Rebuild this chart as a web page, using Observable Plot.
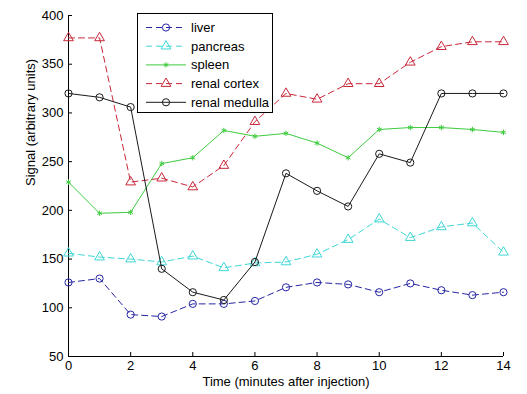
<!DOCTYPE html>
<html><head><meta charset="utf-8">
<script src="https://cdn.jsdelivr.net/npm/d3@7"></script>
<script src="https://cdn.jsdelivr.net/npm/@observablehq/plot@0.6"></script>
<style>
html,body{margin:0;padding:0;background:#fff;}
#wrap{position:relative;width:527px;height:394px;font-family:"Liberation Sans",Arial,sans-serif;}
#legend{position:absolute;left:137px;top:13px;width:136px;height:100px;border:1px solid #000;background:#fff;box-sizing:border-box;}
#legend svg{position:absolute;left:0;top:0;}
</style>
</head><body>
<div id="wrap"><div id="legend"></div></div>
<script>
const times = [0,1,2,3,4,5,6,7,8,9,10,11,12,13,14];
const seriesNames = ["liver","pancreas","spleen","renal cortex","renal medulla"];
const liver = [126,130,93,91,104,104,107,121,126,124,116,125,118,113,116];
const pancreas = [156,152,150,147,153,141,146,147,155,170,191,172,183,187,157];
const spleen = [229,197,198,248,254,282,276,279,269,254,283,285,285,283,280];
const renalCortex = [377,377,229,233,224,246,291,320,314,330,330,352,368,373,373];
const renalMedulla = [320,316,306,140,116,108,147,238,220,204,258,249,320,320,320];
const yTicks = [50,100,150,200,250,300,350,400];
const xTicks = [0,2,4,6,8,10,12,14];
const xLabel = "Time (minutes after injection)";
const yLabel = "Signal (arbitrary units)";

const styles = [
  {values: liver, color: "#2626a3", dash: "6,4", symbol: "circle", r: 3.6},
  {values: pancreas, color: "#3fd6d6", dash: "6,4", symbol: "triangle", r: 3.6},
  {values: spleen, color: "#3ecb3e", dash: null, symbol: "asterisk", r: 2.5},
  {values: renalCortex, color: "#c8283a", dash: "6,4", symbol: "triangle", r: 3.6},
  {values: renalMedulla, color: "#1a1a1a", dash: null, symbol: "circle", r: 3.6}
];

const W = 527, H = 394, mL = 68, mR = 24, mT = 15, mB = 38;
const pw = W - mL - mR, ph = H - mT - mB;
const FONT = '"Liberation Sans", Arial, sans-serif';

const marks = [
  Plot.ruleX([0], {stroke: "#000"}),
  Plot.ruleY([50], {stroke: "#000"}),
  Plot.tickY(yTicks, {y: d => d, insetRight: pw - 4, stroke: "#000"}),
  Plot.tickX(xTicks, {x: d => d, insetTop: ph - 4, stroke: "#000"}),
  Plot.axisY({ticks: yTicks, tickSize: 0, tickPadding: 5, label: null, fill: "#000"}),
  Plot.axisX({ticks: xTicks, tickSize: 0, tickPadding: 4, label: null, fill: "#000"}),
  Plot.text([yLabel], {frameAnchor: "left", rotate: -90, dx: -38, fill: "#000"}),
  Plot.text([xLabel], {frameAnchor: "bottom", dy: 29, fill: "#000"})
];
seriesNames.forEach((name, k) => {
  const s = styles[k];
  const rows = times.map((t, i) => ({t, v: s.values[i], name}));
  marks.push(Plot.line(rows, {x: "t", y: "v", stroke: s.color, strokeWidth: 1, strokeDasharray: s.dash}));
  marks.push(Plot.dot(rows, {x: "t", y: "v", stroke: s.color, fill: "none", symbol: s.symbol, r: s.r, strokeWidth: 1}));
});

const chart = Plot.plot({
  width: W, height: H, marginLeft: mL, marginRight: mR, marginTop: mT, marginBottom: mB,
  style: {fontFamily: FONT, fontSize: "13px", background: "#fff", color: "#000", overflow: "visible"},
  x: {domain: [0, 14]},
  y: {domain: [50, 400]},
  marks
});
document.getElementById("wrap").prepend(chart);

// legend
const lg = d3.select("#legend");
const svg = lg.append("svg").attr("width", 136).attr("height", 100)
  .style("font-family", FONT).style("font-size", "13px");
const symMap = {circle: d3.symbolCircle, triangle: d3.symbolTriangle, asterisk: d3.symbolAsterisk};
seriesNames.forEach((name, k) => {
  const s = styles[k];
  const cy = 13.5 + k * 18.7;
  svg.append("line").attr("x1", 8).attr("x2", 48).attr("y1", cy).attr("y2", cy)
    .attr("stroke", s.color).attr("stroke-dasharray", s.dash);
  svg.append("path").attr("transform", `translate(28,${cy})`)
    .attr("d", d3.symbol(symMap[s.symbol], Math.PI * s.r * s.r)())
    .attr("fill", "none").attr("stroke", s.color);
  svg.append("text").attr("x", 53).attr("y", cy).attr("dy", "0.35em").attr("fill", "#000").text(name);
});
</script>
</body></html>
